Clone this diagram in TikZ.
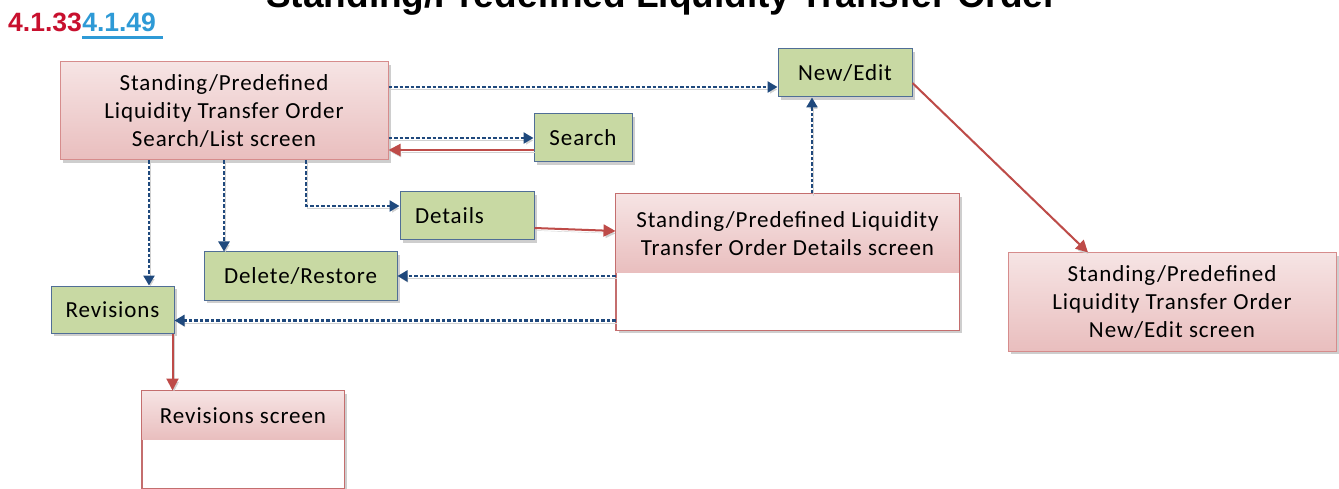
\documentclass[tikz,border=0pt]{standalone}
\usepackage{fontspec}
\setmainfont{Carlito}
\newfontfamily\hdfont{Liberation Sans}
\newfontfamily\boxfont{Carlito}[LetterSpace=4]
\usetikzlibrary{shadows,arrows.meta,calc}
\newcommand\bxtxt{\boxfont\fontsize{23}{28}\selectfont}
\definecolor{pinktop}{RGB}{246,228,228}
\definecolor{pinkbot}{RGB}{233,190,190}
\definecolor{pinkline}{RGB}{214,140,140}
\definecolor{scrline}{RGB}{196,110,110}
\definecolor{greenfill}{RGB}{200,217,163}
\definecolor{greenline}{RGB}{80,110,150}
\definecolor{dotblue}{RGB}{31,73,125}
\definecolor{redarrow}{RGB}{190,75,72}
\definecolor{numred}{RGB}{200,16,46}
\definecolor{numblue}{RGB}{46,154,214}
\tikzset{
  shd/.style={drop shadow={shadow xshift=3pt,shadow yshift=-3pt,opacity=0.35,fill=black!55}},
  pinkbox/.style={draw=pinkline,line width=1pt,top color=pinktop,bottom color=pinkbot,shd,inner sep=0pt,align=center,font=\bxtxt},
  pinkhead/.style={draw=none,top color=pinktop,bottom color=pinkbot,inner sep=0pt,align=center,font=\bxtxt},
  scrbox/.style={draw=scrline,line width=1pt,fill=white,shd,inner sep=0pt},
  greenbox/.style={draw=greenline,line width=1pt,fill=greenfill,shd,inner sep=0pt,align=center,font=\bxtxt},
  dotarrow/.style={draw=dotblue,line width=2.4pt,dash pattern=on 3.5pt off 2pt,-{Triangle[length=10pt,width=11pt]},
    preaction={draw=black!18,transform canvas={shift={(1.5,2.5)}}}},
  redarr/.style={draw=redarrow,line width=2pt,-{Triangle[length=12pt,width=12pt]},
    preaction={draw=black!18,transform canvas={shift={(1.5,2.5)}}}},
}
\begin{document}
\begin{tikzpicture}[x=1pt,y=-1pt]
\useasboundingbox (0,0) rectangle (1339,489);
% title and headings
\node[font=\hdfont\bfseries\fontsize{37}{40}\selectfont,anchor=base] (title) at (662,8) {Standing/Predefined Liquidity Transfer Order};
\node[font=\hdfont\bfseries\fontsize{26.5}{28}\selectfont,text=numred,anchor=base west,inner sep=0pt] (n1) at (8,32) {4.1.33};
\node[font=\hdfont\bfseries\fontsize{26.5}{28}\selectfont,text=numblue,anchor=base west,inner sep=0pt] (n2) at (n1.base east) {4.1.49};
\draw[numblue,line width=2.5pt] ($(n2.base west)+(0,5.5)$) -- ($(n2.base east)+(7,5.5)$);
% boxes
\node[pinkbox,minimum width=328pt,minimum height=98pt] (main) at (224,111) {Standing/Predefined\\Liquidity Transfer Order\\Search/List screen};
\node[greenbox,minimum width=134pt,minimum height=48pt] (newedit) at (845,73) {New/Edit};
\node[greenbox,minimum width=98pt,minimum height=48pt] (search) at (583,138) {Search};
\node[greenbox,minimum height=48pt,text width=104pt,inner xsep=15pt,align=left] (details) at (467,216) {Details};
\node[greenbox,minimum width=193pt,minimum height=48pt] (del) at (300.5,276) {Delete/Restore};
\node[greenbox,minimum width=123pt,minimum height=47pt] (rev) at (112.5,309.5) {Revisions};
\node[pinkbox,minimum width=328pt,minimum height=98pt] (nescr) at (1172,302) {Standing/Predefined\\Liquidity Transfer Order\\New/Edit screen};
% details screen
\node[scrbox,minimum width=343pt,minimum height=136pt] (detscr) at (787.5,262) {};
\node[pinkhead,minimum width=343pt,minimum height=79pt,anchor=north] (detscrh) at (detscr.north) {Standing/Predefined Liquidity\\Transfer Order Details screen};
\draw[scrline,line width=1pt] (detscr.south west) rectangle (detscr.north east);
% revisions screen
\node[scrbox,minimum width=202pt,minimum height=97pt] (revscr) at (243,439.5) {};
\node[pinkhead,minimum width=202pt,minimum height=49pt,anchor=north] (revscrh) at (revscr.north) {Revisions screen};
\draw[scrline,line width=1pt] (revscr.south west) rectangle (revscr.north east);
% connectors
\coordinate (a1) at ([yshift=-14pt]newedit.west);
\draw[dotarrow] (main.east |- a1) -- (a1);
\draw[dotarrow] (main.east |- search.west) -- (search.west);
\coordinate (a2) at ([yshift=-12pt]search.west);
\draw[redarr] (a2) -- (main.east |- a2);
\coordinate (a3) at ([yshift=10pt]details.west);
\coordinate (m1) at ([xshift=82pt]main.south);
\draw[dotarrow] (m1) |- (a3);
\draw[dotarrow] (main.south) -- (main.south |- del.north);
\coordinate (m3) at ([xshift=-75pt]main.south);
\draw[dotarrow] (m3) -- (m3 |- rev.north);
\draw[redarr] ([yshift=-12pt]details.east) -- ([yshift=31pt]detscr.west);
\coordinate (d1) at ([xshift=-33pt]newedit.south);
\draw[dotarrow] (d1 |- detscr.north) -- (d1);
\draw[dotarrow] (detscr.west |- del.east) -- (del.east);
\coordinate (r1) at ([yshift=-11pt]rev.east);
\draw[dotarrow] (detscr.west |- r1) -- (r1);
\coordinate (r2) at ([xshift=-2pt]rev.south east);
\draw[redarr] (r2) -- (r2 |- revscr.north);
\draw[redarr] ([yshift=-10pt]newedit.east) -- ([xshift=-84pt]nescr.north);
\end{tikzpicture}
\end{document}
